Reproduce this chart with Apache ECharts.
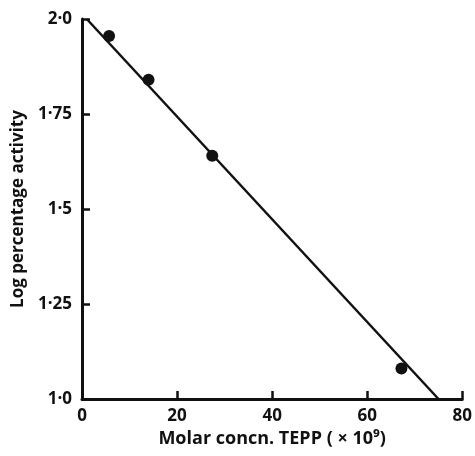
<!DOCTYPE html>
<html lang="en">
<head>
    <meta charset="UTF-8">
    <title>Log percentage activity vs TEPP</title>
    <script src="https://cdn.jsdelivr.net/npm/echarts@6/dist/echarts.min.js"></script>
    <style>
        html, body { margin: 0; padding: 0; background: #fff; }
        #chart { width: 475px; height: 456px; }
    </style>
</head>
<body>
    <div id="chart"></div>
    <script>
        // measured points (molar concn x 10^9, log % activity)
        var concn = [5.7, 14.0, 27.4, 67.2];
        var logActivity = [1.955, 1.84, 1.64, 1.08];

        // fitted line end points
        var lineX = [1, 75];
        var lineY = [2.0, 1.0];

        var yTickLabels = { '1': '1·0', '1.25': '1·25', '1.5': '1·5', '1.75': '1·75', '2': '2·0' };

        var font = "'Open Sans', 'DejaVu Sans', sans-serif";
        var ink = '#111';

        var chart = echarts.init(document.getElementById('chart'));

        var option = {
            animation: false,
            backgroundColor: '#fff',
            grid: { left: 82, right: 11, top: 19, bottom: 57 },
            xAxis: {
                type: 'value',
                min: 0,
                max: 80,
                interval: 20,
                name: 'Molar concn. TEPP ( × 10⁹)',
                nameLocation: 'middle',
                nameGap: 31,
                nameTextStyle: { fontFamily: font, fontSize: 18, fontWeight: 'bold', color: ink },
                axisLine: { show: true, lineStyle: { color: ink, width: 3 } },
                axisTick: { show: true, inside: true, length: 8, lineStyle: { color: ink, width: 2.5 } },
                axisLabel: { fontFamily: font, fontSize: 17, fontWeight: 'bold', color: ink, margin: 9 },
                splitLine: { show: false }
            },
            yAxis: {
                type: 'value',
                min: 1.0,
                max: 2.0,
                interval: 0.25,
                name: 'Log percentage activity',
                nameLocation: 'middle',
                nameGap: 50,
                nameTextStyle: { fontFamily: font, fontSize: 17, fontWeight: 'bold', color: ink },
                axisLine: { show: true, lineStyle: { color: ink, width: 3 } },
                axisTick: { show: true, inside: true, length: 8, lineStyle: { color: ink, width: 2.5 } },
                axisLabel: {
                    fontFamily: font, fontSize: 17, fontWeight: 'bold', color: ink, margin: 10,
                    formatter: function (v) { return yTickLabels[String(v)] || String(v); }
                },
                splitLine: { show: false }
            },
            series: [
                {
                    type: 'line',
                    data: lineX.map(function (x, i) { return [x, lineY[i]]; }),
                    symbol: 'none',
                    lineStyle: { color: ink, width: 2.5 },
                    z: 2
                },
                {
                    type: 'scatter',
                    data: concn.map(function (x, i) { return [x, logActivity[i]]; }),
                    symbol: 'circle',
                    symbolSize: 12,
                    itemStyle: { color: ink, opacity: 1 },
                    z: 3
                }
            ]
        };

        chart.setOption(option);
    </script>
</body>
</html>
